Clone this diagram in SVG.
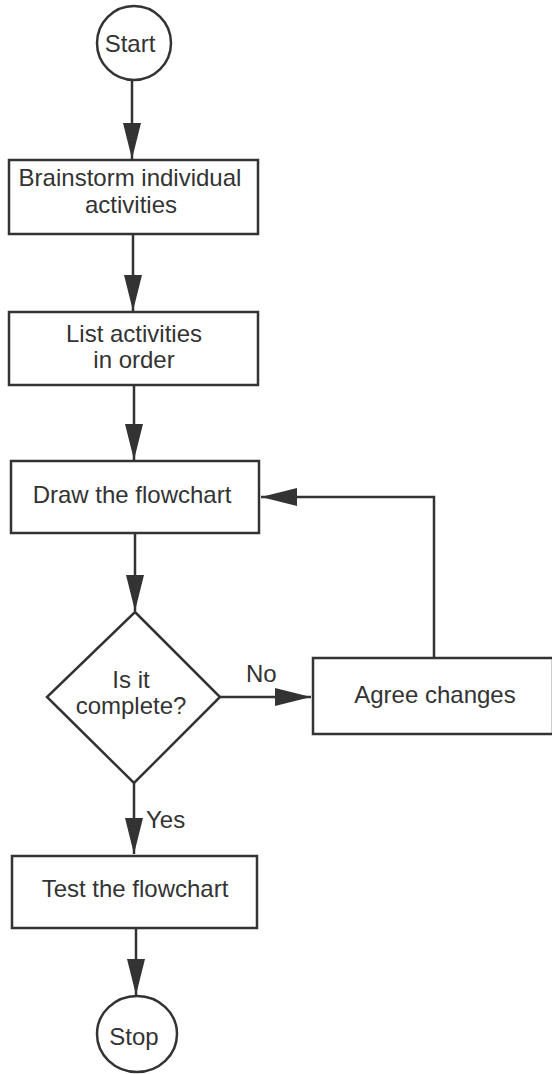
<svg xmlns="http://www.w3.org/2000/svg" width="552" height="1074" viewBox="0 0 552 1074">
  <style>
    .shape { fill: #ffffff; stroke: #333333; stroke-width: 2.5; }
    .conn { fill: none; stroke: #333333; stroke-width: 2.5; }
    .label { font-family: "Liberation Sans", Arial, Helvetica, sans-serif; font-size: 24px; fill: #333333; text-anchor: middle; }
    .side { text-anchor: start; }
  </style>
  <defs>
    <marker id="arrow" markerUnits="userSpaceOnUse" markerWidth="38" markerHeight="20" refX="36" refY="9" orient="auto">
      <path d="M0,0 L36,9 L0,18 z" fill="#333333"/>
    </marker>
  </defs>

  <rect width="552" height="1074" fill="#ffffff"/>

  <!-- connectors -->
  <g id="connectors">
    <line class="conn" x1="132" y1="80" x2="132" y2="159" marker-end="url(#arrow)"/>
    <line class="conn" x1="133" y1="234" x2="133" y2="311" marker-end="url(#arrow)"/>
    <line class="conn" x1="134" y1="385" x2="134" y2="460" marker-end="url(#arrow)"/>
    <line class="conn" x1="135" y1="533" x2="135" y2="611" marker-end="url(#arrow)"/>
    <line class="conn" x1="220" y1="697" x2="311" y2="697" marker-end="url(#arrow)"/>
    <polyline class="conn" points="434,658 434,497 261,497" marker-end="url(#arrow)"/>
    <line class="conn" x1="134" y1="783" x2="134" y2="854" marker-end="url(#arrow)"/>
    <line class="conn" x1="136" y1="928" x2="136" y2="995" marker-end="url(#arrow)"/>
    <text class="label side" x="246" y="682">No</text>
    <text class="label side" x="146" y="828">Yes</text>
  </g>

  <g id="start">
    <ellipse class="shape" cx="134" cy="43" rx="37" ry="37"/>
    <text class="label" x="130" y="52">Start</text>
  </g>

  <g id="brainstorm">
    <rect class="shape" x="9" y="160" width="249" height="74"/>
    <text class="label" x="130" y="186">Brainstorm individual</text>
    <text class="label" x="131" y="213">activities</text>
  </g>

  <g id="list">
    <rect class="shape" x="9" y="312" width="249" height="73"/>
    <text class="label" x="134" y="342">List activities</text>
    <text class="label" x="134" y="368">in order</text>
  </g>

  <g id="draw">
    <rect class="shape" x="11" y="461" width="248" height="72"/>
    <text class="label" x="132" y="503">Draw the flowchart</text>
  </g>

  <g id="decision">
    <polygon class="shape" points="135,612 220,697 134,783 47,697"/>
    <text class="label" x="131" y="688">Is it</text>
    <text class="label" x="131" y="714">complete?</text>
  </g>

  <g id="agree">
    <rect class="shape" x="313" y="658" width="240" height="76"/>
    <text class="label" x="435" y="703">Agree changes</text>
  </g>

  <g id="test">
    <rect class="shape" x="12" y="856" width="245" height="72"/>
    <text class="label" x="135" y="897">Test the flowchart</text>
  </g>

  <g id="stop">
    <ellipse class="shape" cx="137" cy="1034" rx="40" ry="38"/>
    <text class="label" x="134" y="1045">Stop</text>
  </g>
</svg>
